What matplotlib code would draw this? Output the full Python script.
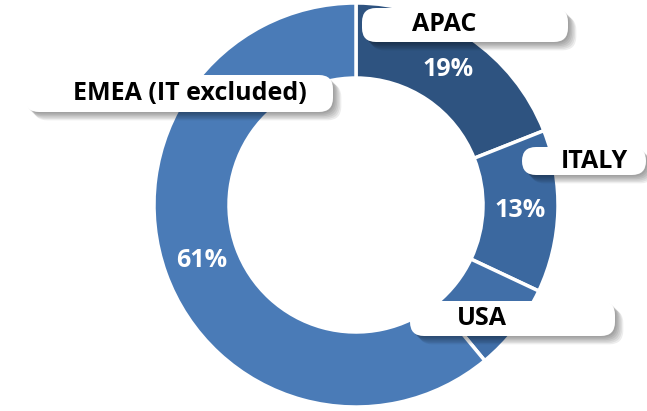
import matplotlib.pyplot as plt
from matplotlib.patches import FancyBboxPatch
import matplotlib.patheffects as pe

# Data
regions = ['APAC', 'ITALY', 'USA', 'EMEA (IT excluded)']
shares = [19, 13, 7, 61]
colors = ['#2e5380', '#3b689f', '#416fa8', '#4a7bb7']

plt.rcParams['font.family'] = ['Open Sans', 'DejaVu Sans']

fig = plt.figure(figsize=(6.47, 4.11), dpi=100)
ax = fig.add_axes([0, 0, 1, 1])

# pixel-like data coords, y up
cx, cy, R = 356, 206, 202
wedges, texts, autotexts = ax.pie(
    shares, colors=colors, startangle=90, counterclock=False,
    center=(cx, cy), radius=R,
    wedgeprops=dict(width=75, edgecolor='white', linewidth=2.5),
    autopct='%d%%', pctdistance=(R - 38) / R,
    textprops=dict(color='white', fontsize=18, fontweight='bold'))

# the USA percentage sits behind its label box, as in the original
px, py = autotexts[2].get_position()
autotexts[2].set_position((px - 4, py - 8))

ax.set_xlim(0, 647)
ax.set_ylim(0, 411)
ax.set_aspect('auto')
ax.axis('off')

# label boxes: (x0, top in px, width, height, text x)
boxes = {
    'APAC': (362, 8, 206, 34, 444),
    'ITALY': (522, 147, 124, 28, 594),
    'USA': (410, 301, 205, 35, 482),
    'EMEA (IT excluded)': (25, 75, 308, 37, 190),
}
# soft shadow: stacked faint offsets
shadow = [pe.SimplePatchShadow(offset=(d, -d), shadow_rgbFace='black', alpha=0.07, rho=0.0)
          for d in (1, 2, 3, 4, 5, 6)] + [pe.Normal()]
for name in regions:
    x0, top, w, h, tx = boxes[name]
    y0 = 411 - top - h
    box = FancyBboxPatch((x0, y0), w, h, boxstyle='round,pad=0,rounding_size=14',
                         fc='white', ec='none', zorder=5)
    box.set_path_effects(shadow)
    ax.add_patch(box)
    ax.text(tx, y0 + h / 2, name, ha='center', va='center', fontsize=18,
            fontweight='bold', color='black', zorder=6)

fig.savefig('out.png', dpi=100)
